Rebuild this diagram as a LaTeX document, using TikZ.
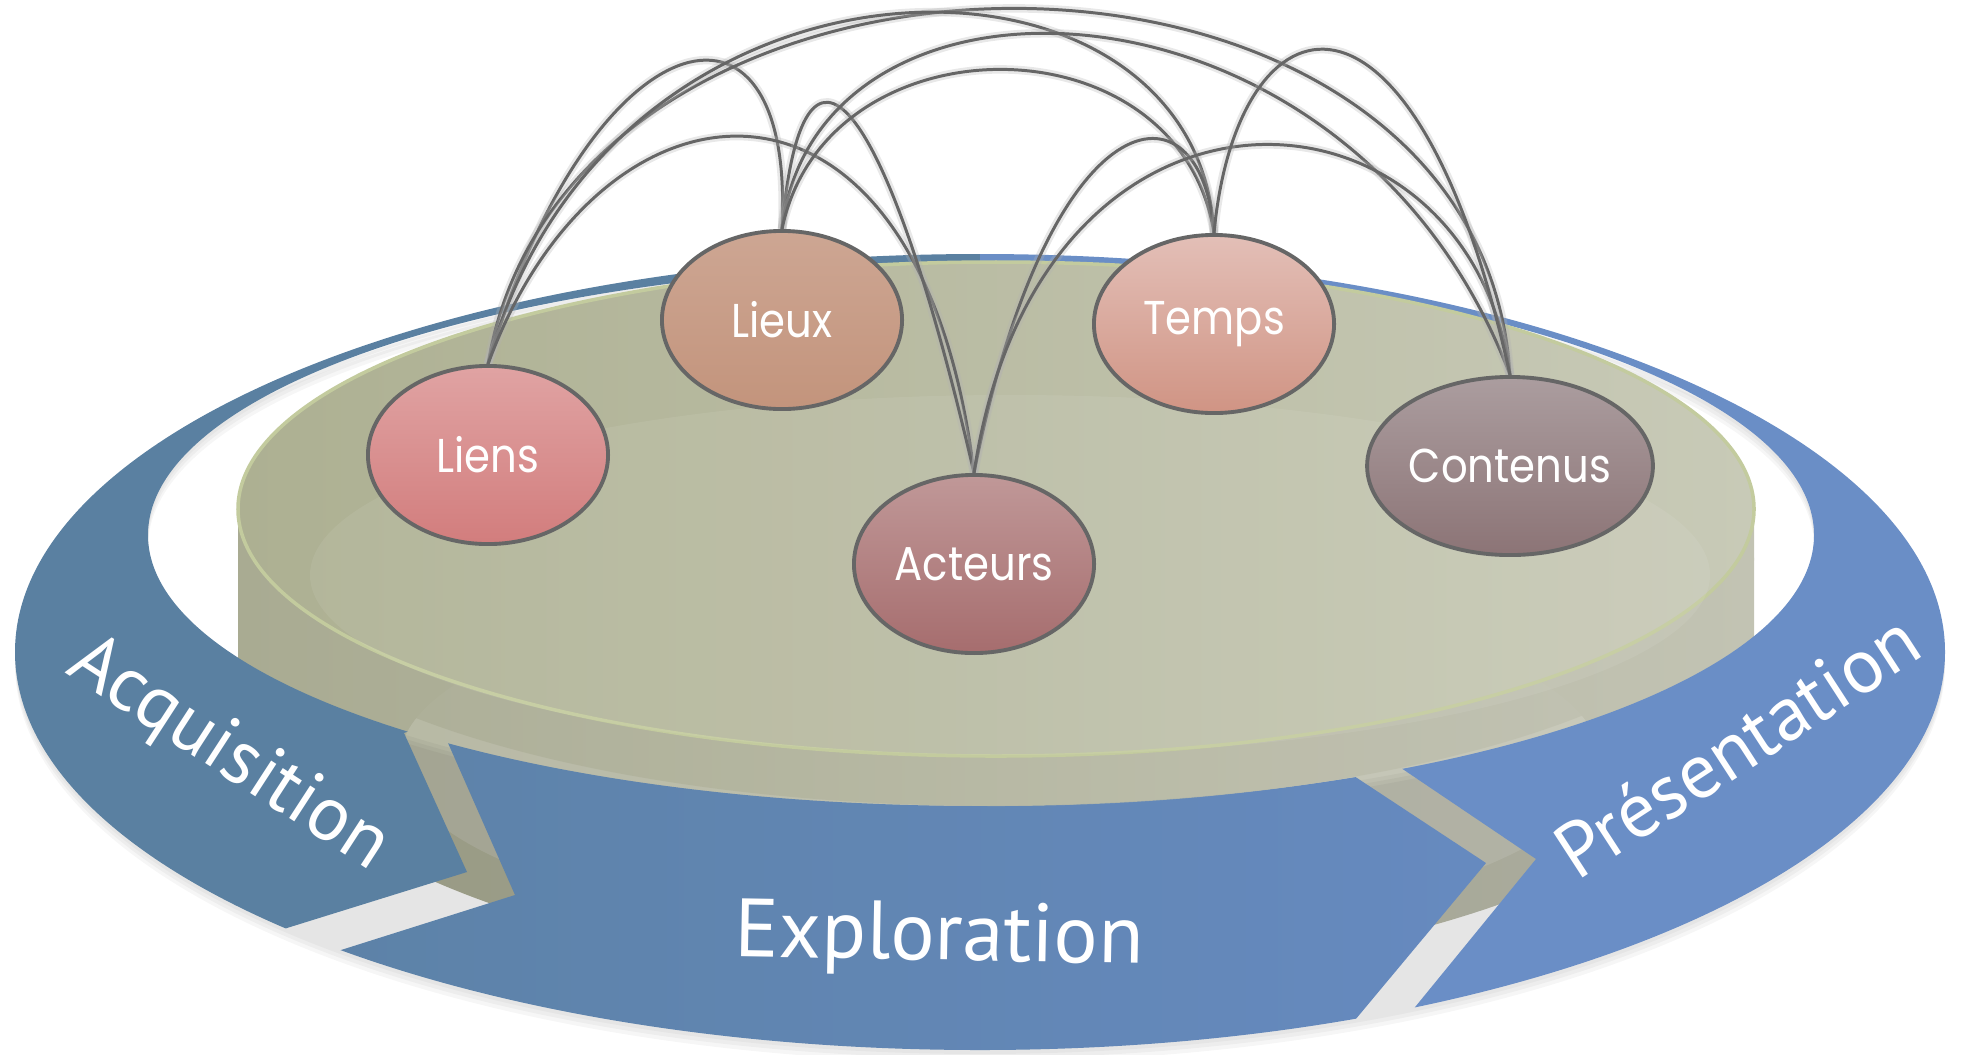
\documentclass[tikz,border=0pt]{standalone}
\usepackage{fontspec}
\usetikzlibrary{shapes.geometric}

\newfontfamily\topicfont[FakeStretch=0.88]{Poppins}
\newfontfamily\phasefont{PT Sans}

\definecolor{acqblue}{HTML}{5A80A1}
\definecolor{expleft}{HTML}{5A80A1}
\definecolor{expright}{HTML}{6A8DC9}
\definecolor{preblue}{HTML}{6A8EC6}
\definecolor{dishleft}{HTML}{ADB092}
\definecolor{dishright}{HTML}{C8CAB7}
\definecolor{sideleft}{HTML}{A9AB92}
\definecolor{sideright}{HTML}{C2C3B3}
\definecolor{dishedge}{HTML}{C3CB9E}
\definecolor{linkgrey}{HTML}{666666}
\definecolor{liensT}{HTML}{E0A3A3}
\definecolor{liensB}{HTML}{D27D7D}
\definecolor{lieuxT}{HTML}{CDA693}
\definecolor{lieuxB}{HTML}{C3947C}
\definecolor{tempsT}{HTML}{E3BFB7}
\definecolor{tempsB}{HTML}{D09484}
\definecolor{acteursT}{HTML}{C09898}
\definecolor{acteursB}{HTML}{A66D6E}
\definecolor{contenusT}{HTML}{AB9D9F}
\definecolor{contenusB}{HTML}{8C7476}

\pgfdeclarelayer{ground}
\pgfdeclarelayer{links}
\pgfsetlayers{ground,links,main}

\tikzset{
topic/.style={ellipse, draw=linkgrey, line width=1.1pt, minimum width=2.4cm,
  minimum height=1.78cm, inner sep=0pt, text=white,
  font=\topicfont\fontsize{13.5}{14}\selectfont},
link/.style={draw=linkgrey, line width=0.85pt,
  preaction={draw=black!30, opacity=.3, line width=2.4pt}},
phase/.style={text=white, font=\phasefont\fontsize{22}{24}\selectfont}
}

\begin{document}
\begin{tikzpicture}[x=0.01cm, y=-0.01cm]
\useasboundingbox (0,0) rectangle (1961,1054);

\begin{pgfonlayer}{ground}
% side of the dish, seen through the gaps
\shade[left color=sideleft, right color=sideright]
  (996,680) ellipse [x radius=758, y radius=300];
\shade[left color=sideleft, right color=sideright] (238,509) rectangle (1754,680);
\fill[white, opacity=.15] (1000,760) ellipse [x radius=600, y radius=180];

% soft shadow of the ring
\foreach \s in {4,8,12}
  \fill[black, opacity=.035, even odd rule] (980,652+\s) ellipse [x radius=965, y radius=398]
    (981,535+\s) ellipse [x radius=833, y radius=271];

% ring: Acquisition
\begin{scope}
\clip (404,733) -- (467,872) -- (287,928) -- (150,971) -- (-50,1100) -- (-50,-50)
  -- (980,-50) -- (980,500) -- cycle;
\fill[acqblue, even odd rule] (980,652) ellipse [x radius=965, y radius=398]
  (981,535) ellipse [x radius=833, y radius=271];
\end{scope}
% ring: Exploration
\begin{scope}
\clip (385,600) -- (448,743) -- (515,895) -- (341,950) -- (250,979) -- (250,1100)
  -- (1280,1110) -- (1355,1020) -- (1486,863) -- (1357,778) -- (1228,693) -- cycle;
\shade[left color=expleft, right color=expright, even odd rule]
  (980,652) ellipse [x radius=965, y radius=398]
  (981,535) ellipse [x radius=833, y radius=271];
\end{scope}
% ring: Presentation
\begin{scope}
\clip (980,-50) -- (2050,-50) -- (2050,1150) -- (1349,1088) -- (1411,1012)
  -- (1536,859) -- (1407,772) -- (1278,685) -- (980,500) -- cycle;
\fill[preblue, even odd rule] (980,652) ellipse [x radius=965, y radius=398]
  (981,535) ellipse [x radius=833, y radius=271];
\end{scope}

% top of the dish
\shade[left color=sideleft, right color=sideright, opacity=.8]
  (996,559) ellipse [x radius=758, y radius=247];
\shade[left color=dishleft, right color=dishright, draw=dishedge, line width=1pt]
  (996,509) ellipse [x radius=758, y radius=247];
\fill[white, opacity=.07] (1010,575) ellipse [x radius=700, y radius=180];
\end{pgfonlayer}

% phases
\node[phase, anchor=base, rotate=-33] (acq) at (218,772) {Acquisition};
\node[phase, anchor=base, rotate=-1, font=\phasefont\fontsize{23.5}{25}\selectfont]
  (expl) at (939,960) {Exploration};
\node[phase, anchor=base, rotate=33] (pres) at (1752,768) {Présentation};

% topics
\node[topic, top color=liensT, bottom color=liensB] (liens) at (488,455) {Liens};
\node[topic, top color=lieuxT, bottom color=lieuxB] (lieux) at (782,320) {Lieux};
\node[topic, top color=tempsT, bottom color=tempsB] (temps) at (1214,324) {Temps};
\node[topic, top color=acteursT, bottom color=acteursB] (acteurs) at (974,564) {Acteurs};
\node[topic, top color=contenusT, bottom color=contenusB] (contenus) at (1510,466) {Contenus};

% links
\begin{pgfonlayer}{links}
\draw[link] (liens.north) .. controls +(100,-345) and +(14,-270) .. (lieux.north);
\draw[link] (liens.north) .. controls +(80,-475) and +(-31,-488) .. (contenus.north);
\draw[link] (liens.north) .. controls +(120,-444) and +(-17,-314) .. (temps.north);
\draw[link] (liens.north) .. controls +(112,-306) and +(-54,-445) .. (acteurs.north);
\draw[link] (lieux.north) .. controls +(20,-230) and +(-90,-390) .. (acteurs.north);
\draw[link] (lieux.north) .. controls +(34,-290) and +(-158,-417) .. (contenus.north);
\draw[link] (lieux.north) .. controls +(44,-213) and +(-35,-218) .. (temps.north);
\draw[link] (acteurs.north) .. controls +(75,-380) and +(-12,-160) .. (temps.north);
\draw[link] (acteurs.north) .. controls +(65,-436) and +(-41,-308) .. (contenus.north);
\draw[link] (temps.north) .. controls +(23,-245) and +(-95,-431) .. (contenus.north);
\end{pgfonlayer}
\end{tikzpicture}
\end{document}
